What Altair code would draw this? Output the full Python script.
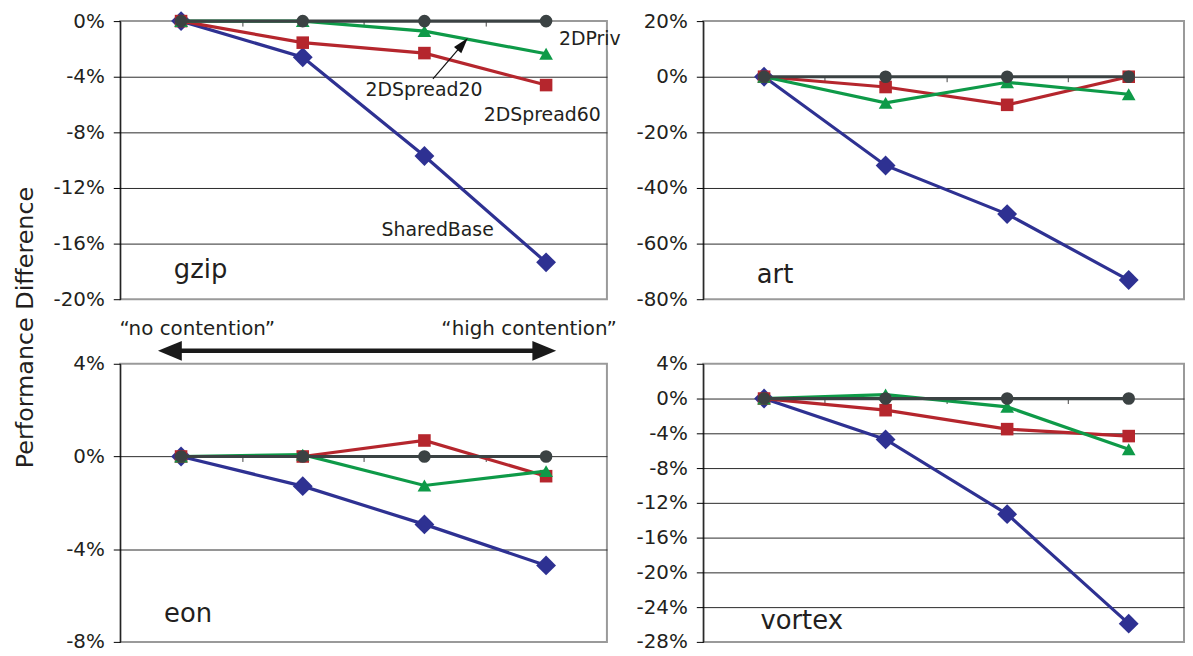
import altair as alt
import pandas as pd

# ---------------- data ----------------
X = [1, 2, 3, 4]
SERIES = ["SharedBase", "2DSpread60", "2DSpread20", "2DPriv"]
COLORS = ["#2E3192", "#B5262D", "#0E9A48", "#3B4243"]
SHAPES = ["diamond", "square", "triangle-up", "circle"]
SIZES = [400, 160, 190, 160]

gzip_shared = [0, -2.6, -9.7, -17.35]
gzip_spread60 = [0, -1.55, -2.3, -4.6]
gzip_spread20 = [0, 0, -0.72, -2.35]
gzip_priv = [0, 0, 0, 0]

art_shared = [0, -31.9, -49.4, -73.1]
art_spread60 = [0, -3.7, -10.1, 0]
art_spread20 = [0, -9.4, -2.0, -6.3]
art_priv = [0, 0, 0, 0]

eon_shared = [0, -1.28, -2.93, -4.7]
eon_spread60 = [0, 0, 0.69, -0.85]
eon_spread20 = [0, 0.08, -1.25, -0.63]
eon_priv = [0, 0, 0, 0]

vortex_shared = [0, -4.7, -13.3, -25.9]
vortex_spread60 = [0, -1.34, -3.52, -4.32]
vortex_spread20 = [0, 0.46, -0.96, -5.84]
vortex_priv = [0, 0, 0, 0]

gzip_ticks = [0, -4, -8, -12, -16, -20]
art_ticks = [20, 0, -20, -40, -60, -80]
eon_ticks = [4, 0, -4, -8]
vortex_ticks = [4, 0, -4, -8, -12, -16, -20, -24, -28]

# annotation texts (data units of the gzip panel)
gzip_note_text = ["2DPriv", "2DSpread20", "2DSpread60", "SharedBase"]
gzip_note_x = [4.106, 2.516, 3.488, 2.647]
gzip_note_y = [-1.29, -4.94, -6.73, -15.03]
# small arrow from "2DSpread20" to its line
arrow_tail = (3.07, -4.15)
arrow_head = (3.315, -1.65)

# panel names, placed in each panel's data units
panel_label_x = [0.94, 0.94, 0.86, 0.97]
panel_label_y = [-18.47, -74.2, -7.14, -26.55]

# contention arrow (eon panel data units)
cont_text = ["\u201cno contention\u201d", "\u201chigh contention\u201d"]
cont_text_x = [1.133, 3.86]
cont_text_y = [5.25, 5.25]
cont_arrow_x = [0.908, 3.985]
cont_arrow_y = 4.56

FONT = "DejaVu Sans"
TXT = "#231f20"
H = 280


def panel(name, series_vals, ymin, ymax, ticks, w, xmax, label_x, label_y, ytitle=None):
    x_enc = alt.X(
        "x:Q",
        scale=alt.Scale(domain=[0.5, xmax], nice=False, zero=False),
        axis=alt.Axis(values=[1.5, 2.5, 3.5], labels=False, title=None, domain=False,
                      grid=False, tickSize=5, tickColor="#444", tickWidth=1,
                      offset=H * ymin / (ymax - ymin)),
    )
    ax_kw = dict(
        values=ticks, labelExpr="datum.value + '%'", tickSize=7, tickColor="#000",
        tickWidth=1, domainColor="#000", domainWidth=1, labelPadding=9, grid=True,
        gridWidth=1,
        gridColor={"condition": {"test": f"datum.value == {ymin} || datum.value == {ymax}",
                                 "value": "rgba(0,0,0,0)"}, "value": "#2a2a2a"},
    )
    if ytitle:
        ax_kw.update(title=ytitle, titleX=-88, titleY=308, titleAngle=270,
                     titleAlign="center", titleBaseline="alphabetic")
    else:
        ax_kw.update(title=None)
    y_enc = alt.Y("v:Q", scale=alt.Scale(domain=[ymin, ymax], nice=False, zero=False),
                  axis=alt.Axis(**ax_kw))

    layers = []
    for vals, col, shp, sz in zip(series_vals, COLORS, SHAPES, SIZES):
        df = pd.DataFrame({"x": X, "v": vals})
        base = alt.Chart(df).encode(x=x_enc, y=y_enc)
        layers.append(base.mark_line(color=col, strokeWidth=3.2))
        layers.append(base.mark_point(shape=shp, filled=True, size=sz, color=col, opacity=1))

    lab = pd.DataFrame({"x": [label_x], "v": [label_y], "t": [name]})
    layers.append(alt.Chart(lab).mark_text(align="left", baseline="alphabetic", font=FONT,
                                           fontSize=26, color=TXT)
                  .encode(x=x_enc, y=y_enc, text="t:N"))
    return layers, x_enc, y_enc


# gzip
g_layers, gx, gy = panel("gzip", [gzip_shared, gzip_spread60, gzip_spread20, gzip_priv],
                         -20, 0, gzip_ticks, 490, 4.5, panel_label_x[0], panel_label_y[0],
                         ytitle="Performance Difference")
notes = pd.DataFrame({"x": gzip_note_x, "v": gzip_note_y, "t": gzip_note_text})
g_layers.append(alt.Chart(notes).mark_text(align="left", baseline="middle", font=FONT,
                                           fontSize=19, color=TXT)
                .encode(x=gx, y=gy, text="t:N"))
arr = pd.DataFrame({"x": [arrow_tail[0]], "v": [arrow_tail[1]],
                    "x2": [arrow_head[0]], "v2": [arrow_head[1]]})
g_layers.append(alt.Chart(arr).mark_rule(color="#111", strokeWidth=1.2)
                .encode(x=gx, y=gy, x2="x2:Q", y2="v2:Q"))
ah = pd.DataFrame({"x": [arrow_head[0]], "v": [arrow_head[1]]})
g_layers.append(alt.Chart(ah).mark_point(shape="M0,-1L0.6,1L-0.6,1Z", filled=True, size=256,
                                         angle=40, color="#111", opacity=1)
                .encode(x=gx, y=gy))
p_gzip = alt.layer(*g_layers).properties(width=490, height=H)

# art
a_layers, ax_, ay_ = panel("art", [art_shared, art_spread60, art_spread20, art_priv],
                           -80, 20, art_ticks, 484, 4.455, panel_label_x[1], panel_label_y[1])
p_art = alt.layer(*a_layers).properties(width=484, height=H)

# eon
e_layers, ex, ey = panel("eon", [eon_shared, eon_spread60, eon_spread20, eon_priv],
                         -8, 4, eon_ticks, 490, 4.5, panel_label_x[2], panel_label_y[2])
ct = pd.DataFrame({"x": cont_text_x, "v": cont_text_y, "t": cont_text})
e_layers.append(alt.Chart(ct).mark_text(align="center", baseline="alphabetic", font=FONT,
                                        fontSize=20, color=TXT)
                .encode(x=ex, y=ey, text="t:N"))
ca = pd.DataFrame({"x": [cont_arrow_x[0]], "x2": [cont_arrow_x[1]], "v": [cont_arrow_y]})
e_layers.append(alt.Chart(ca).mark_rule(color="#1a1a1a", strokeWidth=4.5)
                .encode(x=ex, x2="x2:Q", y=ey))
cl = pd.DataFrame({"x": [cont_arrow_x[0]], "v": [cont_arrow_y]})
cr = pd.DataFrame({"x": [cont_arrow_x[1]], "v": [cont_arrow_y]})
e_layers.append(alt.Chart(cl).mark_point(shape="M-1,0L1,-0.83L1,0.83Z", filled=True, size=576,
                                         color="#1a1a1a", opacity=1)
                .encode(x=ex, y=ey))
e_layers.append(alt.Chart(cr).mark_point(shape="M1,0L-1,-0.83L-1,0.83Z", filled=True, size=576,
                                         color="#1a1a1a", opacity=1)
                .encode(x=ex, y=ey))
p_eon = alt.layer(*e_layers).properties(width=490, height=H)

# vortex
v_layers, vx, vy = panel("vortex", [vortex_shared, vortex_spread60, vortex_spread20, vortex_priv],
                         -28, 4, vortex_ticks, 484, 4.455, panel_label_x[3], panel_label_y[3])
p_vortex = alt.layer(*v_layers).properties(width=484, height=H)

chart = (
    alt.concat(p_gzip, p_art, p_eon, p_vortex, columns=2,
               spacing={"row": 65, "column": 97}, bounds="flush")
    .properties(padding={"left": 5, "top": 0, "right": 0, "bottom": 0})
    .configure_view(stroke="#9a9a9a", strokeWidth=2)
    .configure_axis(labelFont=FONT, labelFontSize=20, labelColor=TXT,
                    titleFont=FONT, titleFontSize=24, titleFontWeight="normal",
                    titleColor=TXT)
)

chart.save("out.html", embed_options={"renderer": "svg", "actions": False})
